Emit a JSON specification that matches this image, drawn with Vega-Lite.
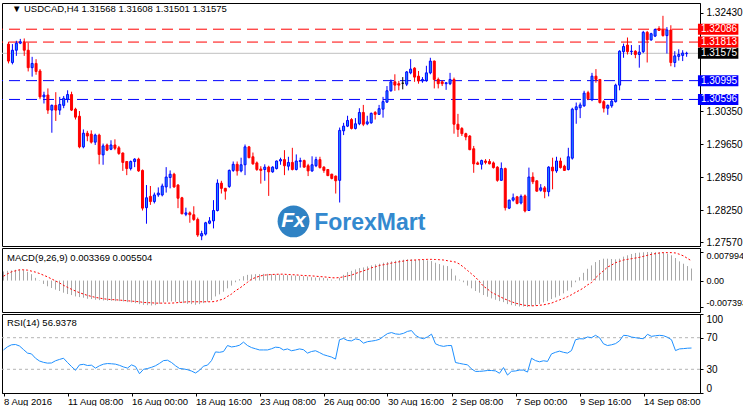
{
"$schema": "https://vega.github.io/schema/vega-lite/v6.json",
"padding": {"left": 1, "top": 2, "right": 0, "bottom": 0},
"spacing": 2,
"bounds": "flush",
"background": "white",
"config": {
  "view": {"stroke": "#000000", "strokeWidth": 1},
  "font": "Liberation Sans",
  "axis": {"labelFont": "Liberation Sans", "labelFontSize": 10, "labelColor": "#000000", "tickColor": "#000000", "domainColor": "#000000", "grid": false, "title": null, "tickSize": 3, "labelPadding": 3}
},
"datasets": {
  "levels": [
    {"p": 1.32086, "kind": "res"},
    {"p": 1.31813, "kind": "res"},
    {"p": 1.31575, "kind": "bid"},
    {"p": 1.30995, "kind": "sup"},
    {"p": 1.30596, "kind": "sup"}
  ],
  "bars": [
{"i":0,"o":1.3177,"h":1.3182,"l":1.3136,"c":1.3141,"m":0.00254,"s":0.00122,"r":54.5},
{"i":1,"o":1.3138,"h":1.3177,"l":1.3134,"c":1.3164,"m":0.00273,"s":0.00188,"r":58.5},
{"i":2,"o":1.3164,"h":1.3184,"l":1.3152,"c":1.3179,"m":0.00283,"s":0.00245,"r":61.0},
{"i":3,"o":1.3179,"h":1.3188,"l":1.3177,"c":1.3182,"m":0.00301,"s":0.00273,"r":61.4},
{"i":4,"o":1.3182,"h":1.3189,"l":1.3152,"c":1.3164,"m":0.00311,"s":0.00301,"r":59.5},
{"i":5,"o":1.3164,"h":1.3180,"l":1.3119,"c":1.3127,"m":0.00292,"s":0.00301,"r":55.0},
{"i":6,"o":1.3127,"h":1.3150,"l":1.3108,"c":1.3136,"m":0.00245,"s":0.00292,"r":50.5},
{"i":7,"o":1.3136,"h":1.3145,"l":1.3112,"c":1.3119,"m":0.00179,"s":0.00264,"r":49.5},
{"i":8,"o":1.3120,"h":1.3124,"l":1.3060,"c":1.3065,"m":0.00075,"s":0.00236,"r":44.0},
{"i":9,"o":1.3065,"h":1.3076,"l":1.3051,"c":1.3069,"m":-0.00009,"s":0.00198,"r":40.5},
{"i":10,"o":1.3069,"h":1.3083,"l":1.3029,"c":1.3037,"m":-0.00094,"s":0.00151,"r":38.8},
{"i":11,"o":1.3037,"h":1.3049,"l":1.2989,"c":1.3047,"m":-0.00160,"s":0.00104,"r":37.8},
{"i":12,"o":1.3047,"h":1.3075,"l":1.3014,"c":1.3037,"m":-0.00207,"s":0.00047,"r":38.0},
{"i":13,"o":1.3037,"h":1.3065,"l":1.3027,"c":1.3049,"m":-0.00254,"s":-0.00009,"r":40.8},
{"i":14,"o":1.3047,"h":1.3067,"l":1.3041,"c":1.3062,"m":-0.00292,"s":-0.00066,"r":42.5},
{"i":15,"o":1.3060,"h":1.3079,"l":1.3053,"c":1.3070,"m":-0.00339,"s":-0.00132,"r":44.0},
{"i":16,"o":1.3070,"h":1.3076,"l":1.3035,"c":1.3037,"m":-0.00377,"s":-0.00188,"r":38.6},
{"i":17,"o":1.3039,"h":1.3042,"l":1.3017,"c":1.3022,"m":-0.00405,"s":-0.00245,"r":33.5},
{"i":18,"o":1.3024,"h":1.3035,"l":1.2956,"c":1.2959,"m":-0.00443,"s":-0.00292,"r":28.7},
{"i":19,"o":1.2959,"h":1.2996,"l":1.2956,"c":1.2988,"m":-0.00462,"s":-0.00339,"r":35.6},
{"i":20,"o":1.2988,"h":1.2993,"l":1.2971,"c":1.2982,"m":-0.00480,"s":-0.00377,"r":36.3},
{"i":21,"o":1.2986,"h":1.2994,"l":1.2966,"c":1.2969,"m":-0.00509,"s":-0.00415,"r":34.8},
{"i":22,"o":1.2969,"h":1.2987,"l":1.2963,"c":1.2984,"m":-0.00518,"s":-0.00443,"r":35.2},
{"i":23,"o":1.2984,"h":1.2987,"l":1.2922,"c":1.2943,"m":-0.00537,"s":-0.00471,"r":31.5},
{"i":24,"o":1.2942,"h":1.2966,"l":1.2921,"c":1.2961,"m":-0.00546,"s":-0.00490,"r":34.5},
{"i":25,"o":1.2963,"h":1.2966,"l":1.2950,"c":1.2952,"m":-0.00556,"s":-0.00509,"r":36.5},
{"i":26,"o":1.2954,"h":1.2973,"l":1.2952,"c":1.2963,"m":-0.00565,"s":-0.00523,"r":37.3},
{"i":27,"o":1.2963,"h":1.2975,"l":1.2952,"c":1.2956,"m":-0.00565,"s":-0.00532,"r":37.0},
{"i":28,"o":1.2957,"h":1.2961,"l":1.2942,"c":1.2945,"m":-0.00575,"s":-0.00537,"r":36.5},
{"i":29,"o":1.2946,"h":1.2947,"l":1.2908,"c":1.2926,"m":-0.00575,"s":-0.00546,"r":35.0},
{"i":30,"o":1.2928,"h":1.2929,"l":1.2899,"c":1.2913,"m":-0.00584,"s":-0.00556,"r":33.0},
{"i":31,"o":1.2913,"h":1.2930,"l":1.2909,"c":1.2928,"m":-0.00603,"s":-0.00565,"r":31.5},
{"i":32,"o":1.2928,"h":1.2935,"l":1.2916,"c":1.2933,"m":-0.00612,"s":-0.00575,"r":35.6},
{"i":33,"o":1.2933,"h":1.2936,"l":1.2906,"c":1.2908,"m":-0.00631,"s":-0.00584,"r":33.5},
{"i":34,"o":1.2909,"h":1.2911,"l":1.2824,"c":1.2829,"m":-0.00659,"s":-0.00593,"r":24.4},
{"i":35,"o":1.2830,"h":1.2878,"l":1.2796,"c":1.2851,"m":-0.00678,"s":-0.00612,"r":30.0},
{"i":36,"o":1.2854,"h":1.2876,"l":1.2836,"c":1.2843,"m":-0.00688,"s":-0.00617,"r":31.0},
{"i":37,"o":1.2843,"h":1.2862,"l":1.2839,"c":1.2857,"m":-0.00697,"s":-0.00622,"r":32.5},
{"i":38,"o":1.2857,"h":1.2873,"l":1.2853,"c":1.2861,"m":-0.00688,"s":-0.00631,"r":34.5},
{"i":39,"o":1.2857,"h":1.2881,"l":1.2854,"c":1.2876,"m":-0.00650,"s":-0.00631,"r":37.5},
{"i":40,"o":1.2874,"h":1.2916,"l":1.2862,"c":1.2895,"m":-0.00612,"s":-0.00631,"r":41.0},
{"i":41,"o":1.2894,"h":1.2909,"l":1.2871,"c":1.2901,"m":-0.00593,"s":-0.00631,"r":41.5},
{"i":42,"o":1.2901,"h":1.2904,"l":1.2872,"c":1.2874,"m":-0.00584,"s":-0.00631,"r":38.6},
{"i":43,"o":1.2878,"h":1.2880,"l":1.2829,"c":1.2850,"m":-0.00593,"s":-0.00622,"r":34.5},
{"i":44,"o":1.2851,"h":1.2853,"l":1.2816,"c":1.2817,"m":-0.00612,"s":-0.00612,"r":31.0},
{"i":45,"o":1.2816,"h":1.2830,"l":1.2812,"c":1.2819,"m":-0.00631,"s":-0.00603,"r":30.5},
{"i":46,"o":1.2819,"h":1.2822,"l":1.2798,"c":1.2815,"m":-0.00650,"s":-0.00593,"r":29.5},
{"i":47,"o":1.2815,"h":1.2833,"l":1.2802,"c":1.2805,"m":-0.00659,"s":-0.00593,"r":27.8},
{"i":48,"o":1.2805,"h":1.2809,"l":1.2768,"c":1.2772,"m":-0.00678,"s":-0.00593,"r":25.3},
{"i":49,"o":1.2770,"h":1.2781,"l":1.2761,"c":1.2775,"m":-0.00659,"s":-0.00593,"r":28.7},
{"i":50,"o":1.2774,"h":1.2800,"l":1.2771,"c":1.2798,"m":-0.00631,"s":-0.00593,"r":34.0},
{"i":51,"o":1.2797,"h":1.2810,"l":1.2795,"c":1.2802,"m":-0.00593,"s":-0.00593,"r":35.3},
{"i":52,"o":1.2802,"h":1.2846,"l":1.2786,"c":1.2824,"m":-0.00546,"s":-0.00593,"r":41.0},
{"i":53,"o":1.2824,"h":1.2890,"l":1.2822,"c":1.2882,"m":-0.00443,"s":-0.00584,"r":52.0},
{"i":54,"o":1.2882,"h":1.2887,"l":1.2860,"c":1.2871,"m":-0.00386,"s":-0.00546,"r":51.5},
{"i":55,"o":1.2871,"h":1.2872,"l":1.2847,"c":1.2865,"m":-0.00311,"s":-0.00518,"r":52.5},
{"i":56,"o":1.2875,"h":1.2911,"l":1.2872,"c":1.2909,"m":-0.00217,"s":-0.00443,"r":60.1},
{"i":57,"o":1.2909,"h":1.2928,"l":1.2906,"c":1.2922,"m":-0.00141,"s":-0.00377,"r":58.3},
{"i":58,"o":1.2922,"h":1.2928,"l":1.2898,"c":1.2908,"m":-0.00047,"s":-0.00283,"r":59.0},
{"i":59,"o":1.2908,"h":1.2936,"l":1.2905,"c":1.2921,"m":0.00038,"s":-0.00217,"r":60.5},
{"i":60,"o":1.2921,"h":1.2964,"l":1.2899,"c":1.2959,"m":0.00122,"s":-0.00132,"r":64.4},
{"i":61,"o":1.2959,"h":1.2961,"l":1.2935,"c":1.2936,"m":0.00160,"s":-0.00047,"r":60.1},
{"i":62,"o":1.2938,"h":1.2947,"l":1.2921,"c":1.2923,"m":0.00170,"s":0.00038,"r":57.5},
{"i":63,"o":1.2925,"h":1.2928,"l":1.2908,"c":1.2911,"m":0.00179,"s":0.00085,"r":56.0},
{"i":64,"o":1.2912,"h":1.2918,"l":1.2881,"c":1.2909,"m":0.00179,"s":0.00122,"r":54.5},
{"i":65,"o":1.2911,"h":1.2922,"l":1.2887,"c":1.2916,"m":0.00188,"s":0.00151,"r":54.5},
{"i":66,"o":1.2916,"h":1.2919,"l":1.2855,"c":1.2906,"m":0.00188,"s":0.00160,"r":54.5},
{"i":67,"o":1.2906,"h":1.2918,"l":1.2904,"c":1.2916,"m":0.00179,"s":0.00170,"r":56.0},
{"i":68,"o":1.2913,"h":1.2930,"l":1.2911,"c":1.2929,"m":0.00170,"s":0.00174,"r":58.0},
{"i":69,"o":1.2929,"h":1.2936,"l":1.2921,"c":1.2932,"m":0.00170,"s":0.00179,"r":57.5},
{"i":70,"o":1.2932,"h":1.2952,"l":1.2899,"c":1.2919,"m":0.00160,"s":0.00179,"r":54.5},
{"i":71,"o":1.2918,"h":1.2938,"l":1.2909,"c":1.2926,"m":0.00151,"s":0.00170,"r":55.8},
{"i":72,"o":1.2926,"h":1.2957,"l":1.2909,"c":1.2911,"m":0.00141,"s":0.00165,"r":53.5},
{"i":73,"o":1.2911,"h":1.2943,"l":1.2909,"c":1.2929,"m":0.00141,"s":0.00160,"r":54.5},
{"i":74,"o":1.2928,"h":1.2936,"l":1.2915,"c":1.2930,"m":0.00132,"s":0.00151,"r":55.8},
{"i":75,"o":1.2930,"h":1.2932,"l":1.2915,"c":1.2916,"m":0.00122,"s":0.00141,"r":54.8},
{"i":76,"o":1.2919,"h":1.2923,"l":1.2897,"c":1.2908,"m":0.00113,"s":0.00137,"r":50.5},
{"i":77,"o":1.2908,"h":1.2939,"l":1.2906,"c":1.2921,"m":0.00094,"s":0.00132,"r":52.5},
{"i":78,"o":1.2919,"h":1.2938,"l":1.2916,"c":1.2932,"m":0.00085,"s":0.00122,"r":53.5},
{"i":79,"o":1.2932,"h":1.2938,"l":1.2913,"c":1.2915,"m":0.00085,"s":0.00113,"r":51.2},
{"i":80,"o":1.2916,"h":1.2918,"l":1.2904,"c":1.2909,"m":0.00075,"s":0.00104,"r":48.5},
{"i":81,"o":1.2911,"h":1.2912,"l":1.2897,"c":1.2898,"m":0.00057,"s":0.00094,"r":47.0},
{"i":82,"o":1.2901,"h":1.2902,"l":1.2890,"c":1.2892,"m":0.00028,"s":0.00080,"r":45.5},
{"i":83,"o":1.2897,"h":1.2898,"l":1.2860,"c":1.2887,"m":0.00009,"s":0.00075,"r":42.9},
{"i":84,"o":1.2888,"h":1.3000,"l":1.2841,"c":1.2994,"m":0.00075,"s":0.00085,"r":67.4},
{"i":85,"o":1.2993,"h":1.3010,"l":1.2984,"c":1.3003,"m":0.00160,"s":0.00104,"r":69.1},
{"i":86,"o":1.3003,"h":1.3025,"l":1.3001,"c":1.3015,"m":0.00236,"s":0.00132,"r":66.5},
{"i":87,"o":1.3017,"h":1.3020,"l":1.2996,"c":1.2998,"m":0.00273,"s":0.00151,"r":66.0},
{"i":88,"o":1.2998,"h":1.3020,"l":1.2996,"c":1.3008,"m":0.00311,"s":0.00198,"r":68.5},
{"i":89,"o":1.3008,"h":1.3041,"l":1.3005,"c":1.3032,"m":0.00349,"s":0.00236,"r":67.4},
{"i":90,"o":1.3032,"h":1.3048,"l":1.3003,"c":1.3007,"m":0.00367,"s":0.00273,"r":63.1},
{"i":91,"o":1.3008,"h":1.3025,"l":1.3005,"c":1.3012,"m":0.00396,"s":0.00311,"r":65.0},
{"i":92,"o":1.3010,"h":1.3032,"l":1.3008,"c":1.3030,"m":0.00424,"s":0.00358,"r":65.7},
{"i":93,"o":1.3032,"h":1.3035,"l":1.3017,"c":1.3028,"m":0.00452,"s":0.00386,"r":66.5},
{"i":94,"o":1.3028,"h":1.3048,"l":1.3027,"c":1.3040,"m":0.00471,"s":0.00424,"r":68.0},
{"i":95,"o":1.3039,"h":1.3065,"l":1.3021,"c":1.3055,"m":0.00499,"s":0.00443,"r":71.7},
{"i":96,"o":1.3054,"h":1.3088,"l":1.3052,"c":1.3078,"m":0.00518,"s":0.00462,"r":75.2},
{"i":97,"o":1.3078,"h":1.3102,"l":1.3076,"c":1.3097,"m":0.00537,"s":0.00490,"r":76.5},
{"i":98,"o":1.3097,"h":1.3113,"l":1.3078,"c":1.3090,"m":0.00556,"s":0.00509,"r":74.8},
{"i":99,"o":1.3093,"h":1.3099,"l":1.3079,"c":1.3090,"m":0.00575,"s":0.00528,"r":74.3},
{"i":100,"o":1.3094,"h":1.3107,"l":1.3081,"c":1.3094,"m":0.00584,"s":0.00546,"r":75.5},
{"i":101,"o":1.3092,"h":1.3120,"l":1.3088,"c":1.3118,"m":0.00593,"s":0.00565,"r":78.0},
{"i":102,"o":1.3116,"h":1.3145,"l":1.3113,"c":1.3124,"m":0.00593,"s":0.00570,"r":79.0},
{"i":103,"o":1.3126,"h":1.3128,"l":1.3097,"c":1.3107,"m":0.00584,"s":0.00575,"r":73.0},
{"i":104,"o":1.3109,"h":1.3120,"l":1.3093,"c":1.3099,"m":0.00584,"s":0.00584,"r":70.0},
{"i":105,"o":1.3099,"h":1.3107,"l":1.3095,"c":1.3102,"m":0.00575,"s":0.00589,"r":68.7},
{"i":106,"o":1.3100,"h":1.3131,"l":1.3097,"c":1.3116,"m":0.00565,"s":0.00593,"r":71.0},
{"i":107,"o":1.3116,"h":1.3148,"l":1.3113,"c":1.3141,"m":0.00546,"s":0.00593,"r":74.5},
{"i":108,"o":1.3141,"h":1.3142,"l":1.3083,"c":1.3102,"m":0.00499,"s":0.00589,"r":62.3},
{"i":109,"o":1.3102,"h":1.3106,"l":1.3083,"c":1.3093,"m":0.00462,"s":0.00584,"r":60.1},
{"i":110,"o":1.3097,"h":1.3100,"l":1.3088,"c":1.3093,"m":0.00424,"s":0.00575,"r":59.0},
{"i":111,"o":1.3093,"h":1.3096,"l":1.3080,"c":1.3095,"m":0.00405,"s":0.00556,"r":60.0},
{"i":112,"o":1.3093,"h":1.3116,"l":1.3090,"c":1.3102,"m":0.00330,"s":0.00537,"r":60.1},
{"i":113,"o":1.3102,"h":1.3106,"l":1.2987,"c":1.3007,"m":0.00141,"s":0.00518,"r":38.6},
{"i":114,"o":1.3007,"h":1.3029,"l":1.2980,"c":1.2996,"m":0.00028,"s":0.00462,"r":37.5},
{"i":115,"o":1.2998,"h":1.3001,"l":1.2982,"c":1.2987,"m":-0.00047,"s":0.00377,"r":36.5},
{"i":116,"o":1.2987,"h":1.2989,"l":1.2973,"c":1.2980,"m":-0.00141,"s":0.00283,"r":35.7},
{"i":117,"o":1.2982,"h":1.2984,"l":1.2952,"c":1.2953,"m":-0.00217,"s":0.00188,"r":30.5},
{"i":118,"o":1.2955,"h":1.2961,"l":1.2904,"c":1.2923,"m":-0.00292,"s":0.00094,"r":27.3},
{"i":119,"o":1.2925,"h":1.2928,"l":1.2921,"c":1.2922,"m":-0.00339,"s":-0.00028,"r":27.4},
{"i":120,"o":1.2922,"h":1.2932,"l":1.2911,"c":1.2930,"m":-0.00405,"s":-0.00160,"r":27.8},
{"i":121,"o":1.2929,"h":1.2933,"l":1.2922,"c":1.2926,"m":-0.00452,"s":-0.00236,"r":28.5},
{"i":122,"o":1.2928,"h":1.2933,"l":1.2922,"c":1.2923,"m":-0.00499,"s":-0.00330,"r":28.5},
{"i":123,"o":1.2925,"h":1.2928,"l":1.2913,"c":1.2915,"m":-0.00537,"s":-0.00386,"r":28.0},
{"i":124,"o":1.2916,"h":1.2918,"l":1.2885,"c":1.2888,"m":-0.00575,"s":-0.00443,"r":25.0},
{"i":125,"o":1.2888,"h":1.2926,"l":1.2887,"c":1.2913,"m":-0.00603,"s":-0.00499,"r":32.2},
{"i":126,"o":1.2913,"h":1.2915,"l":1.2824,"c":1.2830,"m":-0.00659,"s":-0.00546,"r":22.7},
{"i":127,"o":1.2829,"h":1.2847,"l":1.2827,"c":1.2846,"m":-0.00688,"s":-0.00593,"r":27.5},
{"i":128,"o":1.2846,"h":1.2860,"l":1.2843,"c":1.2851,"m":-0.00707,"s":-0.00631,"r":27.9},
{"i":129,"o":1.2853,"h":1.2855,"l":1.2837,"c":1.2839,"m":-0.00725,"s":-0.00659,"r":29.0},
{"i":130,"o":1.2840,"h":1.2858,"l":1.2837,"c":1.2854,"m":-0.00725,"s":-0.00688,"r":29.0},
{"i":131,"o":1.2855,"h":1.2858,"l":1.2820,"c":1.2823,"m":-0.007393,"s":-0.00697,"r":26.5},
{"i":132,"o":1.2824,"h":1.2915,"l":1.2823,"c":1.2895,"m":-0.00716,"s":-0.00707,"r":44.0},
{"i":133,"o":1.2895,"h":1.2905,"l":1.2880,"c":1.2885,"m":-0.00697,"s":-0.00702,"r":41.0},
{"i":134,"o":1.2887,"h":1.2888,"l":1.2864,"c":1.2865,"m":-0.00659,"s":-0.00692,"r":39.5},
{"i":135,"o":1.2867,"h":1.2880,"l":1.2864,"c":1.2872,"m":-0.00612,"s":-0.00678,"r":40.8},
{"i":136,"o":1.2872,"h":1.2876,"l":1.2850,"c":1.2864,"m":-0.00575,"s":-0.00655,"r":40.0},
{"i":137,"o":1.2864,"h":1.2918,"l":1.2854,"c":1.2916,"m":-0.00518,"s":-0.00631,"r":49.5},
{"i":138,"o":1.2916,"h":1.2936,"l":1.2869,"c":1.2908,"m":-0.00471,"s":-0.00584,"r":51.5},
{"i":139,"o":1.2908,"h":1.2938,"l":1.2904,"c":1.2929,"m":-0.00424,"s":-0.00542,"r":53.0},
{"i":140,"o":1.2929,"h":1.2936,"l":1.2913,"c":1.2915,"m":-0.00358,"s":-0.00499,"r":51.5},
{"i":141,"o":1.2918,"h":1.2921,"l":1.2908,"c":1.2909,"m":-0.00283,"s":-0.00452,"r":50.5},
{"i":142,"o":1.2911,"h":1.2957,"l":1.2909,"c":1.2938,"m":-0.00188,"s":-0.00396,"r":53.7},
{"i":143,"o":1.2935,"h":1.3042,"l":1.2932,"c":1.3039,"m":-0.00047,"s":-0.00330,"r":67.4},
{"i":144,"o":1.3038,"h":1.3053,"l":1.3008,"c":1.3044,"m":0.00094,"s":-0.00273,"r":68.7},
{"i":145,"o":1.3042,"h":1.3053,"l":1.3020,"c":1.3048,"m":0.00217,"s":-0.00207,"r":68.5},
{"i":146,"o":1.3046,"h":1.3078,"l":1.3044,"c":1.3073,"m":0.00330,"s":-0.00122,"r":70.9},
{"i":147,"o":1.3074,"h":1.3078,"l":1.3058,"c":1.3061,"m":0.00424,"s":-0.00057,"r":70.0},
{"i":148,"o":1.3059,"h":1.3116,"l":1.3056,"c":1.3109,"m":0.00518,"s":0.00075,"r":73.0},
{"i":149,"o":1.3109,"h":1.3124,"l":1.3095,"c":1.3102,"m":0.00575,"s":0.00179,"r":70.0},
{"i":150,"o":1.3102,"h":1.3103,"l":1.3051,"c":1.3053,"m":0.00612,"s":0.00273,"r":62.3},
{"i":151,"o":1.3055,"h":1.3058,"l":1.3032,"c":1.3041,"m":0.00612,"s":0.00377,"r":60.1},
{"i":152,"o":1.3041,"h":1.3049,"l":1.3027,"c":1.3047,"m":0.00603,"s":0.00433,"r":61.0},
{"i":153,"o":1.3046,"h":1.3060,"l":1.3042,"c":1.3056,"m":0.00593,"s":0.00499,"r":62.5},
{"i":154,"o":1.3055,"h":1.3093,"l":1.3053,"c":1.3090,"m":0.00612,"s":0.00537,"r":66.0},
{"i":155,"o":1.3090,"h":1.3164,"l":1.3079,"c":1.3162,"m":0.00669,"s":0.00575,"r":73.0},
{"i":156,"o":1.3161,"h":1.3178,"l":1.3148,"c":1.3172,"m":0.00707,"s":0.00593,"r":72.6},
{"i":157,"o":1.3175,"h":1.3191,"l":1.3155,"c":1.3161,"m":0.00744,"s":0.00612,"r":70.8},
{"i":158,"o":1.3161,"h":1.3175,"l":1.3154,"c":1.3162,"m":0.00772,"s":0.00631,"r":70.0},
{"i":159,"o":1.3162,"h":1.3164,"l":1.3147,"c":1.3155,"m":0.00782,"s":0.00650,"r":69.2},
{"i":160,"o":1.3155,"h":1.3175,"l":1.3127,"c":1.3160,"m":0.00791,"s":0.00678,"r":68.7},
{"i":161,"o":1.3161,"h":1.3205,"l":1.3158,"c":1.3202,"m":0.007994,"s":0.00707,"r":74.3},
{"i":162,"o":1.3202,"h":1.3205,"l":1.3138,"c":1.3186,"m":0.00797,"s":0.00735,"r":71.7},
{"i":163,"o":1.3186,"h":1.3201,"l":1.3184,"c":1.3199,"m":0.00795,"s":0.00754,"r":72.5},
{"i":164,"o":1.3194,"h":1.3210,"l":1.3192,"c":1.3208,"m":0.00790,"s":0.00772,"r":73.0},
{"i":165,"o":1.3210,"h":1.3215,"l":1.3205,"c":1.3206,"m":0.00782,"s":0.00782,"r":72.5},
{"i":166,"o":1.3207,"h":1.3237,"l":1.3193,"c":1.3195,"m":0.00754,"s":0.00782,"r":70.5},
{"i":167,"o":1.3195,"h":1.3213,"l":1.3157,"c":1.3207,"m":0.00707,"s":0.00782,"r":67.4},
{"i":168,"o":1.3207,"h":1.3217,"l":1.3130,"c":1.3138,"m":0.00631,"s":0.00772,"r":53.7},
{"i":169,"o":1.3138,"h":1.3162,"l":1.3128,"c":1.3152,"m":0.00537,"s":0.00735,"r":55.8},
{"i":170,"o":1.3151,"h":1.3166,"l":1.3142,"c":1.3155,"m":0.00471,"s":0.00690,"r":56.2},
{"i":171,"o":1.3153,"h":1.3164,"l":1.3141,"c":1.3158,"m":0.00405,"s":0.00620,"r":56.7},
{"i":172,"o":1.31568,"h":1.31608,"l":1.31501,"c":1.31575,"m":0.003369,"s":0.005504,"r":56.9378}
  ]
},
"vconcat": [
  {
    "width": 698, "height": 243,
    "layer": [
      {
        "data": {"values": [{}]},
        "mark": {"type": "point", "shape": "circle", "filled": true, "size": 1018, "color": "#2f82c4", "opacity": 1},
        "encoding": {
          "x": {"datum": 72.3, "type": "quantitative", "scale": {"domain": [-0.375, 174.125], "nice": false, "zero": false}, "axis": null},
          "y": {"datum": 1.2801, "type": "quantitative", "scale": {"domain": [1.27487, 1.32642], "nice": false, "zero": false}, "axis": {"orient": "right", "values": [1.3243, 1.3035, 1.2965, 1.2895, 1.2825, 1.2757], "format": ".5f"}}
        }
      },
      {
        "data": {"values": [{}]},
        "mark": {"type": "text", "text": "Fx", "font": "Liberation Sans", "fontSize": 21, "fontWeight": "bold", "fontStyle": "italic", "color": "#ffffff", "align": "center", "baseline": "middle"},
        "encoding": {
          "x": {"datum": 72.3, "type": "quantitative", "axis": null},
          "y": {"datum": 1.2801, "type": "quantitative", "axis": {"orient": "right", "values": [1.3243, 1.3035, 1.2965, 1.2895, 1.2825, 1.2757], "format": ".5f"}}
        }
      },
      {
        "data": {"values": [{}]},
        "mark": {"type": "text", "text": "ForexMart", "font": "Liberation Sans", "fontSize": 23, "fontWeight": "bold", "color": "#3389cf", "align": "left", "baseline": "alphabetic"},
        "encoding": {
          "x": {"datum": 77.55, "type": "quantitative", "axis": null},
          "y": {"datum": 1.2782, "type": "quantitative", "axis": {"orient": "right", "values": [1.3243, 1.3035, 1.2965, 1.2895, 1.2825, 1.2757], "format": ".5f"}}
        }
      },
      {
        "data": {"values": [{}]},
        "mark": {"type": "text", "text": "▼  USDCAD,H4  1.31568 1.31608 1.31501 1.31575", "font": "Liberation Sans", "fontSize": 9.5, "color": "#000000", "align": "left", "baseline": "middle"},
        "encoding": {
          "x": {"datum": 0.875, "type": "quantitative", "axis": null},
          "y": {"datum": 1.3251, "type": "quantitative", "axis": {"orient": "right", "values": [1.3243, 1.3035, 1.2965, 1.2895, 1.2825, 1.2757], "format": ".5f"}}
        }
      },
      {
        "data": {"name": "levels"},
        "transform": [{"filter": "datum.kind == 'bid'"}],
        "mark": {"type": "rule", "color": "#c0c0c0", "strokeWidth": 1},
        "encoding": {"y": {"field": "p", "type": "quantitative", "axis": {"orient": "right", "values": [1.3243, 1.3035, 1.2965, 1.2895, 1.2825, 1.2757], "format": ".5f"}}}
      },
      {
        "data": {"name": "levels"},
        "transform": [{"filter": "datum.kind != 'bid'"}],
        "mark": {"type": "rule", "strokeWidth": 1, "strokeDash": [11, 6]},
        "encoding": {
          "y": {"field": "p", "type": "quantitative", "axis": {"orient": "right", "values": [1.3243, 1.3035, 1.2965, 1.2895, 1.2825, 1.2757], "format": ".5f"}},
          "color": {"field": "kind", "type": "nominal", "scale": {"domain": ["res", "sup", "bid"], "range": ["#ff0000", "#0000ff", "#000000"]}, "legend": null}
        }
      },
      {
        "data": {"name": "bars"},
        "mark": {"type": "rule", "strokeWidth": 1},
        "encoding": {
          "x": {"field": "i", "type": "quantitative", "axis": null},
          "y": {"field": "l", "type": "quantitative", "axis": {"orient": "right", "values": [1.3243, 1.3035, 1.2965, 1.2895, 1.2825, 1.2757], "format": ".5f"}},
          "y2": {"field": "h"},
          "color": {"condition": [{"test": "datum.c > datum.o", "value": "#0000ff"}, {"test": "datum.c < datum.o", "value": "#ff0000"}], "value": "#000000"}
        }
      },
      {
        "data": {"name": "bars"},
        "mark": {"type": "bar", "width": 2, "strokeWidth": 1},
        "encoding": {
          "x": {"field": "i", "type": "quantitative", "axis": null},
          "y": {"field": "o", "type": "quantitative", "axis": {"orient": "right", "values": [1.3243, 1.3035, 1.2965, 1.2895, 1.2825, 1.2757], "format": ".5f"}},
          "y2": {"field": "c"},
          "fill": {"condition": [{"test": "datum.c > datum.o", "value": "#1e90ff"}, {"test": "datum.c < datum.o", "value": "#ff0000"}], "value": "#000000"},
          "stroke": {"condition": [{"test": "datum.c > datum.o", "value": "#0000ff"}, {"test": "datum.c < datum.o", "value": "#ff0000"}], "value": "#000000"}
        }
      },
      {
        "data": {"name": "levels"},
        "mark": {"type": "rect", "height": 11},
        "encoding": {
          "x": {"datum": 174.875, "type": "quantitative", "axis": null},
          "x2": {"datum": 185.125},
          "y": {"field": "p", "type": "quantitative", "axis": {"orient": "right", "values": [1.3243, 1.3035, 1.2965, 1.2895, 1.2825, 1.2757], "format": ".5f"}},
          "color": {"field": "kind", "type": "nominal", "scale": {"domain": ["res", "sup", "bid"], "range": ["#ff0000", "#0000ff", "#000000"]}, "legend": null}
        }
      },
      {
        "data": {"name": "levels"},
        "mark": {"type": "text", "color": "#ffffff", "align": "left", "baseline": "middle", "fontSize": 10, "font": "Liberation Sans"},
        "encoding": {
          "x": {"datum": 175.625, "type": "quantitative", "axis": null},
          "y": {"field": "p", "type": "quantitative", "axis": {"orient": "right", "values": [1.3243, 1.3035, 1.2965, 1.2895, 1.2825, 1.2757], "format": ".5f"}},
          "text": {"field": "p", "type": "quantitative", "format": ".5f"}
        }
      }
    ]
  },
  {
    "width": 698, "height": 64,
    "layer": [
      {
        "data": {"name": "bars"},
        "mark": {"type": "rule", "color": "#a8a8a8", "strokeWidth": 1},
        "encoding": {
          "x": {"field": "i", "type": "quantitative", "scale": {"domain": [-0.375, 174.125], "nice": false, "zero": false}, "axis": null},
          "y": {"field": "m", "type": "quantitative", "scale": {"domain": [-0.00879, 0.00911], "nice": false, "zero": false}, "axis": {"orient": "right", "values": [0.007994, 0, -0.007393], "labelExpr": "datum.value == 0 ? '0.00' : '' + datum.value", "labelFlush": 6, "labelFontSize": 9}},
          "y2": {"datum": 0}
        }
      },
      {
        "data": {"name": "bars"},
        "mark": {"type": "line", "color": "#ff0000", "strokeWidth": 1, "strokeDash": [2, 2]},
        "encoding": {
          "x": {"field": "i", "type": "quantitative", "axis": null},
          "y": {"field": "s", "type": "quantitative", "axis": {"orient": "right", "values": [0.007994, 0, -0.007393], "labelExpr": "datum.value == 0 ? '0.00' : '' + datum.value", "labelFlush": 6, "labelFontSize": 9}}
        }
      },
      {
        "data": {"values": [{}]},
        "mark": {"type": "text", "text": "MACD(9,26,9) 0.003369 0.005504", "font": "Liberation Sans", "fontSize": 9.5, "color": "#000000", "align": "left", "baseline": "middle"},
        "encoding": {
          "x": {"datum": 0.875, "type": "quantitative", "axis": null},
          "y": {"datum": 0.00645, "type": "quantitative", "axis": {"orient": "right", "values": [0.007994, 0, -0.007393], "labelExpr": "datum.value == 0 ? '0.00' : '' + datum.value", "labelFlush": 6, "labelFontSize": 9}}
        }
      }
    ]
  },
  {
    "width": 698, "height": 79,
    "layer": [
      {
        "data": {"values": [{"v": 70}, {"v": 30}]},
        "mark": {"type": "rule", "color": "#b4b4b4", "strokeWidth": 1, "strokeDash": [3, 3]},
        "encoding": {
          "y": {"field": "v", "type": "quantitative", "scale": {"domain": [0, 100], "nice": false, "zero": false}, "axis": {"orient": "right", "values": [100, 70, 30, 0], "labelFlush": true}}
        }
      },
      {
        "data": {"name": "bars"},
        "mark": {"type": "line", "color": "#1e90ff", "strokeWidth": 1},
        "encoding": {
          "x": {"field": "i", "type": "quantitative", "scale": {"domain": [-0.375, 174.125], "nice": false, "zero": false}, "axis": {"orient": "bottom", "values": [0, 16, 32, 48, 64, 80, 96, 112, 128, 144, 160], "labelExpr": "['8 Aug 2016','11 Aug 08:00','16 Aug 00:00','18 Aug 16:00','23 Aug 08:00','26 Aug 00:00','30 Aug 16:00','2 Sep 08:00','7 Sep 00:00','9 Sep 16:00','14 Sep 08:00'][round(datum.value / 16)]", "labelAlign": "left", "labelFontSize": 9.5, "tickSize": 3, "labelPadding": 0, "labelFlush": false}},
          "y": {"field": "r", "type": "quantitative", "axis": {"orient": "right", "values": [100, 70, 30, 0], "labelFlush": true}}
        }
      },
      {
        "data": {"values": [{}]},
        "mark": {"type": "text", "text": "RSI(14) 56.9378", "font": "Liberation Sans", "fontSize": 9.5, "color": "#000000", "align": "left", "baseline": "middle"},
        "encoding": {
          "x": {"datum": 0.875, "type": "quantitative", "axis": {"orient": "bottom", "values": [0, 16, 32, 48, 64, 80, 96, 112, 128, 144, 160], "labelExpr": "['8 Aug 2016','11 Aug 08:00','16 Aug 00:00','18 Aug 16:00','23 Aug 08:00','26 Aug 00:00','30 Aug 16:00','2 Sep 08:00','7 Sep 00:00','9 Sep 16:00','14 Sep 08:00'][round(datum.value / 16)]", "labelAlign": "left", "labelFontSize": 9.5, "tickSize": 3, "labelPadding": 0, "labelFlush": false}},
          "y": {"datum": 89, "type": "quantitative", "axis": {"orient": "right", "values": [100, 70, 30, 0], "labelFlush": true}}
        }
      }
    ]
  }
]
}
